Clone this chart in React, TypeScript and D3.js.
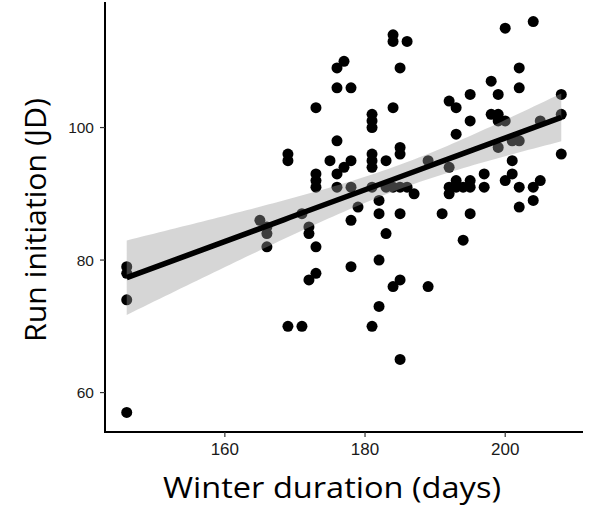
import React from "react";
import * as d3 from "d3";

// Winter duration (days) and run initiation (JD), one entry per fish/year point
const winterDays = [
  146, 146, 146, 146,
  165,
  166, 166, 166,
  169, 169, 169,
  171, 171,
  172, 172, 172,
  173, 173, 173, 173, 173, 173,
  175,
  176, 176, 176, 176, 176,
  177, 177,
  178, 178, 178, 178, 178,
  179,
  181, 181, 181, 181, 181, 181, 181, 181,
  182, 182, 182, 182,
  183, 183, 183,
  184, 184, 184, 184, 184,
  185, 185, 185, 185, 185, 185, 185,
  186, 186,
  187,
  189, 189,
  191,
  192, 192, 192, 192,
  193, 193, 193, 193,
  194, 194,
  195, 195, 195, 195, 195,
  197, 197,
  198, 198,
  199, 199, 199, 199,
  200, 200, 200,
  201, 201, 201,
  202, 202, 202, 202, 202,
  204, 204, 204,
  205, 205,
  208, 208, 208,
];

const runJD = [
  79, 78, 74, 57,
  86,
  85, 84, 82,
  96, 95, 70,
  87, 70,
  85, 84, 77,
  103, 93, 92, 91, 82, 78,
  95,
  109, 106, 98, 93, 91,
  110, 94,
  106, 95, 91, 86, 79,
  88,
  102, 101, 100, 96, 95, 94, 91, 70,
  89, 87, 80, 73,
  95, 91, 84,
  114, 113, 103, 91, 76,
  109, 97, 96, 91, 87, 77, 65,
  113, 91,
  90,
  95, 76,
  87,
  104, 94, 91, 90,
  103, 99, 92, 91,
  91, 83,
  105, 101, 92, 91, 87,
  93, 91,
  107, 102,
  105, 102, 101, 97,
  115, 101, 92,
  98, 95, 93,
  109, 106, 98, 91, 88,
  116, 91, 89,
  101, 92,
  105, 102, 96,
];

const xTicks = [160, 180, 200];
const yTicks = [60, 80, 100];
const xTitle = "Winter duration (days)";
const yTitle = "Run initiation (JD)";

const T_CRIT = 1.98; // 95% t quantile for df ~ 120

export default function App() {
  const W = 603;
  const H = 512;
  const left = 105;
  const right = 583;
  const top = 2;
  const bottom = 432;

  const pts = winterDays.map((x, i) => ({ x, y: runJD[i] }));

  const [x0, x1] = d3.extent(winterDays) as [number, number];
  const [y0, y1] = d3.extent(runJD) as [number, number];
  const xPad = (x1 - x0) * 0.05;
  const yPad = (y1 - y0) * 0.05;

  const xScale = d3.scaleLinear().domain([x0 - xPad, x1 + xPad]).range([left, right]);
  const yScale = d3.scaleLinear().domain([y0 - yPad, y1 + yPad]).range([bottom, top]);

  // linear regression with 95% confidence band (like geom_smooth(method = "lm"))
  const n = pts.length;
  const xbar = d3.mean(winterDays) as number;
  const ybar = d3.mean(runJD) as number;
  const sxx = d3.sum(winterDays, (x) => (x - xbar) ** 2);
  const sxy = d3.sum(pts, (p) => (p.x - xbar) * (p.y - ybar));
  const b = sxy / sxx;
  const a = ybar - b * xbar;
  const rss = d3.sum(pts, (p) => (p.y - (a + b * p.x)) ** 2);
  const s = Math.sqrt(rss / (n - 2));

  const grid = d3.range(0, 81).map((i) => x0 + ((x1 - x0) * i) / 80);
  const band = grid.map((x) => {
    const fit = a + b * x;
    const se = s * Math.sqrt(1 / n + (x - xbar) ** 2 / sxx);
    return { x, fit, lo: fit - T_CRIT * se, hi: fit + T_CRIT * se };
  });

  const area = d3
    .area<{ x: number; lo: number; hi: number }>()
    .x((d) => xScale(d.x))
    .y0((d) => yScale(d.lo))
    .y1((d) => yScale(d.hi));
  const line = d3
    .line<{ x: number; fit: number }>()
    .x((d) => xScale(d.x))
    .y((d) => yScale(d.fit));

  const tickFont = "'Liberation Sans', Arial, sans-serif";
  const titleFont = "'Open Sans', Lato, sans-serif";

  return (
    <svg
      width={W}
      height={H}
      style={{ position: "absolute", left: 0, top: 0, background: "#fff" }}
    >
      <rect x={0} y={0} width={W} height={H} fill="#fff" />
      {pts.map((p, i) => (
        <circle key={i} cx={xScale(p.x)} cy={yScale(p.y)} r={5.5} fill="#000" />
      ))}
      <path d={area(band) || ""} fill="#999999" fillOpacity={0.4} />
      <path d={line(band) || ""} fill="none" stroke="#000" strokeWidth={5.5} />

      {/* axes */}
      <line x1={left} x2={left} y1={top} y2={bottom + 1} stroke="#000" strokeWidth={2} />
      <line x1={left - 1} x2={right} y1={bottom} y2={bottom} stroke="#000" strokeWidth={2} />

      {xTicks.map((t) => (
        <g key={t}>
          <line x1={xScale(t)} x2={xScale(t)} y1={bottom} y2={bottom + 5} stroke="#333" strokeWidth={1.2} />
          <text
            x={xScale(t)}
            y={455}
            textAnchor="middle"
            fontFamily={tickFont}
            fontSize={17}
            fill="#1a1a1a"
          >
            {t}
          </text>
        </g>
      ))}
      {yTicks.map((t) => (
        <g key={t}>
          <line x1={left - 5} x2={left} y1={yScale(t)} y2={yScale(t)} stroke="#333" strokeWidth={1.2} />
          <text
            x={94}
            y={yScale(t)}
            dy="0.36em"
            textAnchor="end"
            fontFamily={tickFont}
            fontSize={15.5}
            fill="#1a1a1a"
          >
            {t}
          </text>
        </g>
      ))}

      <text
        x={332}
        y={498}
        textAnchor="middle"
        fontFamily={titleFont}
        fontSize={29}
        textLength={338}
        lengthAdjust="spacingAndGlyphs"
        fill="#000"
      >
        {xTitle}
      </text>
      <text
        transform={`translate(46, 220) rotate(-90)`}
        textAnchor="middle"
        fontFamily={titleFont}
        fontSize={29}
        textLength={244}
        lengthAdjust="spacingAndGlyphs"
        fill="#000"
      >
        {yTitle}
      </text>
    </svg>
  );
}
